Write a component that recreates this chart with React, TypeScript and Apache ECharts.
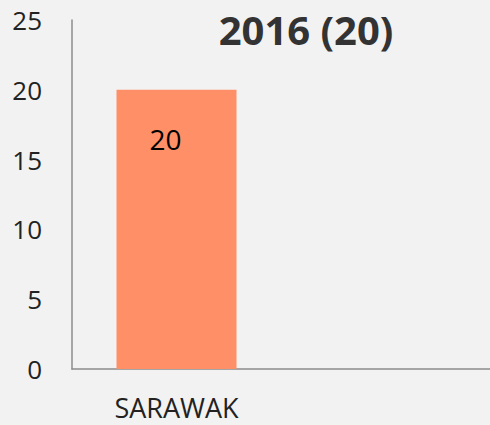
import React, { useEffect, useRef } from "react";
import * as echarts from "echarts";

const categories = ["SARAWAK", ""];
const values: (number | null)[] = [20, null];
const yTicks = [0, 5, 10, 15, 20, 25];
const titleText = "2016 (20)";

export default function App() {
  const ref = useRef<HTMLDivElement>(null);
  useEffect(() => {
    if (!ref.current) return;
    const chart = echarts.init(ref.current, null, { renderer: "svg" });
    chart.setOption({
      animation: false,
      backgroundColor: "#f2f2f2",
      title: {
        text: titleText,
        left: 301,
        top: 4,
        textAlign: "center",
        textStyle: {
          fontFamily: "Open Sans",
          fontWeight: "bold",
          fontSize: 40,
          color: "#333333",
        },
      },
      grid: { left: 72, right: 0, top: 20, bottom: 56, containLabel: false },
      xAxis: {
        type: "category",
        data: categories,
        axisLine: { show: true, lineStyle: { color: "#8c8c8c", width: 1.5 } },
        axisTick: { show: false },
        axisLabel: {
          fontFamily: "Open Sans",
          fontSize: 27,
          color: "#222222",
          margin: 25,
        },
      },
      yAxis: {
        type: "value",
        min: yTicks[0],
        max: yTicks[yTicks.length - 1],
        interval: 5,
        axisLine: { show: true, lineStyle: { color: "#8c8c8c", width: 1.5 } },
        axisTick: { show: false },
        splitLine: { show: false },
        axisLabel: {
          fontFamily: "Open Sans",
          fontSize: 26,
          color: "#222222",
          margin: 30,
        },
      },
      series: [
        {
          type: "bar",
          data: values,
          barWidth: 120,
          itemStyle: { color: "#ff8f66" },
          label: {
            show: true,
            position: [49, 49],
            align: "center",
            verticalAlign: "middle",
            fontFamily: "Open Sans",
            fontSize: 28,
            color: "#000000",
          },
        },
      ],
    });
    return () => chart.dispose();
  }, []);
  return (
    <div
      ref={ref}
      style={{ position: "fixed", left: 0, top: 0, width: 490, height: 425 }}
    />
  );
}
